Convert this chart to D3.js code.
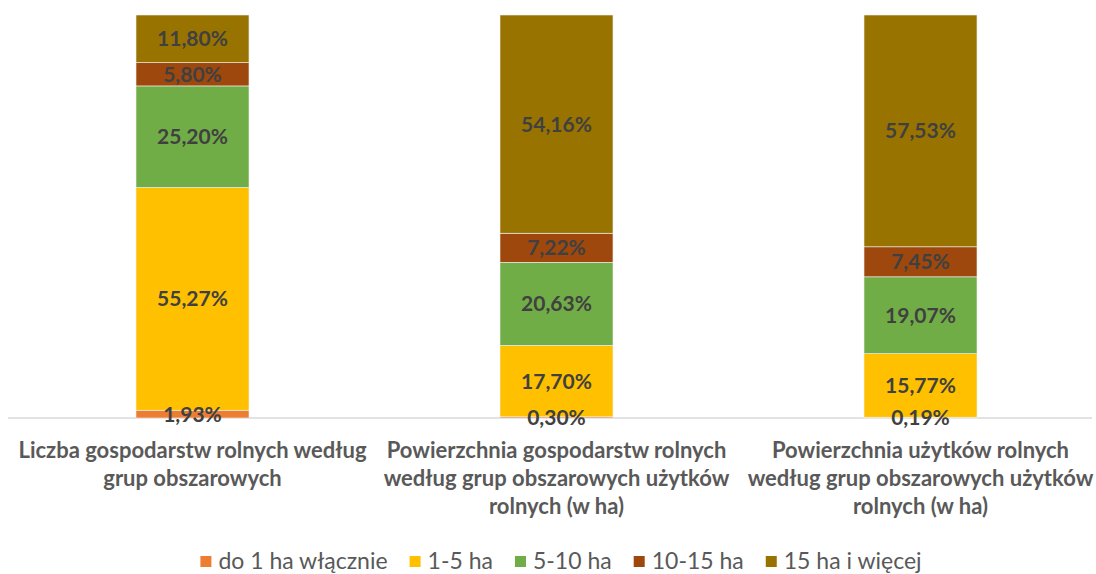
<!DOCTYPE html>
<html>
<head>
<meta charset="utf-8">
<script src="https://cdn.jsdelivr.net/npm/d3@7"></script>
<style>
	body { margin: 0; background: #fff; }
	svg { display: block; }
</style>
</head>
<body>
<svg id="chart" width="1096" height="574"></svg>
<script>
var categories = [
	['Liczba gospodarstw rolnych według', 'grup obszarowych'],
	['Powierzchnia gospodarstw rolnych', 'według grup obszarowych użytków', 'rolnych (w ha)'],
	['Powierzchnia użytków rolnych', 'według grup obszarowych użytków', 'rolnych (w ha)']
];
var seriesNames = ['do 1 ha włącznie', '1-5 ha', '5-10 ha', '10-15 ha', '15 ha i więcej'];
var seriesColors = ['#ED7D31', '#FFC000', '#70AD47', '#9E480E', '#997300'];
var s1 = [1.93, 0.30, 0.19];
var s2 = [55.27, 17.70, 15.77];
var s3 = [25.20, 20.63, 19.07];
var s4 = [5.80, 7.22, 7.45];
var s5 = [11.80, 54.16, 57.53];
var seriesValues = [s1, s2, s3, s4, s5];

var svg = d3.select('#chart');
var font = 'Lato, "Open Sans", sans-serif';

// scales
var x = d3.scaleBand()
	.domain(d3.range(categories.length))
	.range([10.5, 1102.5]);
var barW = 113;
var y = d3.scaleLinear().domain([0, 100]).range([418, 15]);

// stack the data
var rows = categories.map(function(c, i) {
	var r = { idx: i };
	seriesValues.forEach(function(s, k) { r[k] = s[i]; });
	return r;
});
var stack = d3.stack().keys(d3.range(seriesNames.length));
var stacked = stack(rows);

// baseline
svg.append('line')
	.attr('x1', 8).attr('x2', 1092)
	.attr('y1', y(0)).attr('y2', y(0))
	.attr('stroke', '#D9D9D9').attr('stroke-width', 1.5);

var layers = svg.selectAll('.layer')
	.data(stacked)
	.enter()
	.append('g')
	.attr('class', 'layer')
	.attr('fill', function(d, k) { return seriesColors[k]; });

layers.selectAll('rect')
	.data(function(d) { return d; })
	.enter()
	.append('rect')
	.attr('x', function(d) { return x(d.data.idx) + x.bandwidth() / 2 - barW / 2; })
	.attr('width', barW)
	.attr('y', function(d) { return y(Math.min(d[1], 100)); })
	.attr('height', function(d) { return y(d[0]) - y(Math.min(d[1], 100)); })
	.attr('stroke', '#f2f2f2')
	.attr('stroke-width', 0.6);

// value labels (drawn after all bars so nothing covers them)
var labels = svg.selectAll('.labels')
	.data(stacked)
	.enter()
	.append('g')
	.attr('class', 'labels');

labels.selectAll('text')
	.data(function(d) { return d; })
	.enter()
	.append('text')
	.attr('x', function(d) { return x(d.data.idx) + x.bandwidth() / 2; })
	.attr('y', function(d) { return (y(d[0]) + y(Math.min(d[1], 100))) / 2; })
	.attr('dy', '0.36em')
	.attr('text-anchor', 'middle')
	.style('font-family', font)
	.style('font-weight', 'bold')
	.style('font-size', '21px')
	.attr('fill', '#404040')
	.text(function(d) { return (d[1] - d[0]).toFixed(2).replace('.', ',') + '%'; });

// category labels
var cat = svg.selectAll('.cat')
	.data(categories)
	.enter()
	.append('text')
	.attr('class', 'cat')
	.attr('text-anchor', 'middle')
	.style('font-family', font)
	.style('font-weight', 'bold')
	.style('font-size', '22px')
	.attr('fill', '#595959');
cat.selectAll('tspan')
	.data(function(d, i) { return d.map(function(t) { return { t: t, i: i }; }); })
	.enter()
	.append('tspan')
	.attr('x', function(d) { return x(d.i) + x.bandwidth() / 2; })
	.attr('y', function(d, j) { return 458 + j * 28; })
	.text(function(d) { return d.t; });

// legend
var legend = svg.append('g');
var lx = 0;
seriesNames.forEach(function(name, k) {
	var g = legend.append('g').attr('transform', 'translate(' + lx + ',0)');
	g.append('rect').attr('x', 0).attr('y', -5).attr('width', 11).attr('height', 11).attr('fill', seriesColors[k]);
	var t = g.append('text')
		.attr('x', 18).attr('y', 0).attr('dy', '0.35em')
		.style('font-family', font)
		.style('font-size', '23px')
		.attr('fill', '#595959')
		.text(name);
	lx += 18 + t.node().getComputedTextLength() + 22;
});
var lw = lx - 22;
legend.attr('transform', 'translate(' + (561 - lw / 2) + ',561)');
</script>
</body>
</html>
